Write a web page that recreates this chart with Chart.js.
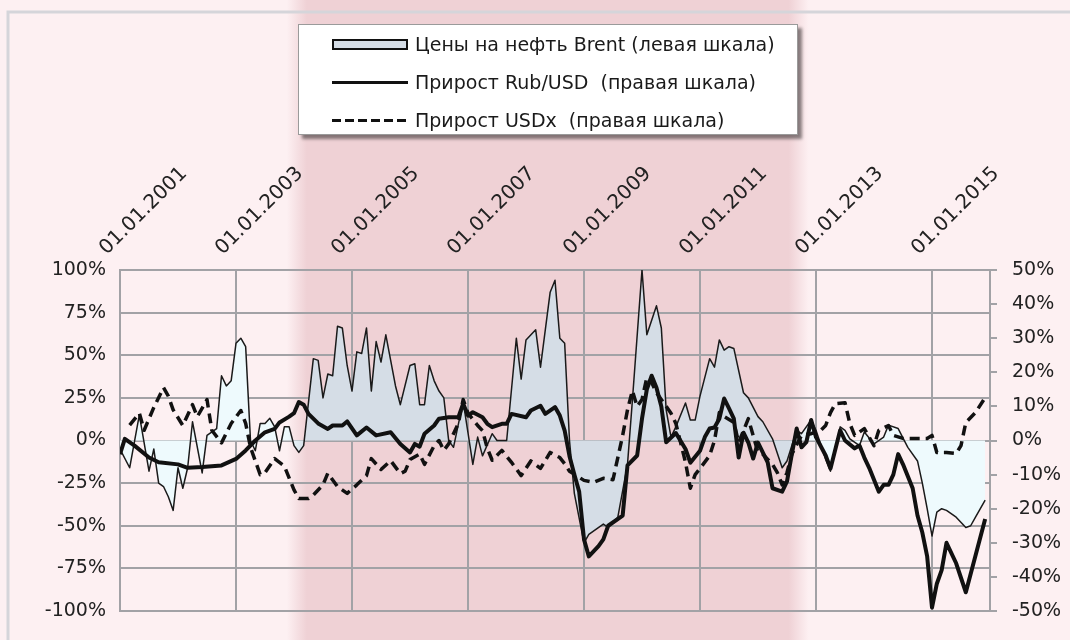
<!DOCTYPE html>
<html lang="ru">
<head>
    <meta charset="UTF-8">
    <title>Brent, Rub/USD, USDx</title>
    <style>
        body { margin: 0; background: #fdf0f2; }
        #wrap { position: relative; width: 1070px; height: 640px; }
        #legend {
            position: absolute; left: 298px; top: 24px; width: 500px; height: 111px;
            box-sizing: border-box; background: #fff; border: 1px solid #9a9a9a;
            box-shadow: 4px 4px 3px rgba(0, 0, 0, 0.45);
            font-family: "DejaVu Sans"; font-size: 19px; color: #1a1a1a;
        }
        #legend .row { position: absolute; left: 33px; height: 30px; display: flex; align-items: center; white-space: pre; }
        #legend .sw { width: 76px; height: 11px; box-sizing: border-box; margin-right: 7px; }
    </style>
</head>
<body>
<div id="wrap">
    <canvas id="myChart" width="1070" height="640"></canvas>
    <div id="legend"></div>
</div>

<script src="https://cdn.jsdelivr.net/npm/chart.js@4.4.0/dist/chart.umd.min.js"></script>
<script>
    // months counted from 01.01.2001
    var brentMonths = [0, 2, 4, 6, 7, 8, 9, 10, 11, 12, 13, 14, 15, 17, 18, 20, 21, 22, 23, 24, 25, 26, 27, 28, 29, 30, 31, 32, 33, 34, 35, 36, 37, 38,
        40, 41, 42, 43, 44, 45, 46, 47, 48, 49, 50, 51, 52, 53, 54, 55, 57, 58, 60, 61, 62, 63, 64, 65, 66, 67, 68, 69, 71, 73, 74, 75, 77, 78,
        80, 82, 83, 84, 86, 87, 89, 90, 91, 92, 93, 94, 96, 97, 100, 101, 103, 105, 106, 108, 109, 111, 112, 113, 114, 115, 117, 118, 119,
        120, 122, 123, 124, 125, 126, 127, 129, 130, 132, 133, 135, 137, 138, 140, 141, 143, 144, 146, 147, 149, 150, 151, 153, 154, 156, 158, 159,
        161, 163, 165, 166, 167, 168, 169, 170, 171, 173, 175, 176, 177, 178, 179];
    var brentValues = [-5, -16, 15, -18, -5, -25, -27, -33, -41, -16, -28, -16, 11, -19, 3, 7, 38, 32, 35, 57, 60, 55, 0, -6, 10, 10, 13, 8, -6, 8, 8, -3, -7, -3,
        48, 47, 25, 39, 38, 67, 66, 44, 29, 52, 51, 66, 29, 58, 46, 62, 32, 21, 44, 45, 21, 21, 44, 35, 29, 25, 0, -4, 23, -14, 2, -9, 4, 0,
        0, 60, 36, 59, 65, 43, 87, 94, 60, 57, 0, -31, -60, -55, -49, -51, -45, -14, 23, 100, 62, 79, 66, 18, 2, 8, 22, 12, 12,
        26, 48, 43, 59, 53, 55, 54, 28, 25, 14, 11, 1, -16, -12, 6, 4, 12, 6, -11, -18, 8, 6, 1, -3, 5, -2, 2, 9,
        7, -4, -12, -25, -40, -56, -42, -40, -41, -45, -51, -50, -45, -40, -35];

    var rubMonths = [0, 1, 3, 6, 8, 12, 14, 17, 21, 24, 26, 28, 30, 32, 33, 35, 36, 37, 38, 39, 41, 43, 44, 46, 47, 49, 51, 53, 56, 58,
        60, 61, 62, 63, 65, 66, 68, 70, 71, 72, 73, 75, 76, 77, 79, 80, 81, 84, 85, 87, 88, 90, 91, 92, 93, 94, 95, 96, 97, 99, 100, 101, 104,
        105, 107, 108, 109, 110, 111, 112, 113, 115, 117, 118, 120, 121, 122, 123, 124, 125, 126, 127, 128, 129, 130, 131, 132, 134, 135, 137,
        138, 139, 140, 141, 142, 143, 144, 146, 147, 149, 150, 152, 153, 154, 155, 157, 158, 159, 160, 161, 162, 164, 165, 166, 167, 168, 169,
        170, 171, 173, 175, 179];
    var rubValues = [-4, 0.5, -1.5, -5, -6.4, -7, -8, -7.8, -7.3, -5.4, -2.9, 0, 2.4, 3.4, 5.3, 7, 8, 11.3, 10.5, 7.8, 5, 3.4, 4.4, 4.4, 5.6, 1.5, 3.8, 1.5, 2.4, -1,
        -3.5, -1, -1.8, 2, 4.4, 6.4, 6.8, 6.8, 10.8, 7.3, 8.3, 6.8, 4.9, 3.9, 4.9, 4.9, 7.8, 6.8, 8.8, 10.2, 7.8, 9.8, 7.3, 2.9, -4.6, -10, -15, -29, -34, -31, -29, -25, -22,
        -7.3, -4.4, 6.4, 15, 19, 15.5, 10, -0.5, 2.2, -2.5, -6.5, -3, 1, 3.5, 3.8, 6.4, 12.3, 9.4, 6.4, -5, 2.3, -0.6, -5.3, -0.6, -6.4, -14, -15,
        -12, -4, 3.5, -2, -0.5, 6, 1, -4.4, -8.2, 3, 0, -2.3, -1.5, -5, -8, -15, -13, -13, -10, -4, -7, -14, -22, -27, -34, -49, -42,
        -38, -30, -36, -44.5, -23];

    var usdxMonths = [2, 4, 5, 7, 9, 10, 11, 13, 15, 16, 18, 19, 21, 23, 25, 26, 27, 28, 29, 30, 32, 34, 36, 37, 39, 40, 42, 43, 45, 47, 49, 51, 52, 54, 56, 58, 59,
        60, 62, 63, 65, 66, 67, 68, 69, 70, 71, 72, 74, 75, 76, 77, 79, 81, 83, 85, 87, 89, 91, 92, 93, 96, 98, 100, 102, 103, 104, 105, 106, 107,
        108, 109, 110, 111, 112, 114, 115, 117, 118, 119, 120, 122, 123, 124, 125, 127, 128, 130, 132, 133, 135, 136, 137, 138, 139, 141, 143,
        145, 146, 147, 148, 150, 151, 152, 154, 156, 157, 159, 160, 162, 165, 167, 168, 169, 171, 173, 174, 175, 177, 179];
    var usdxValues = [4.5, 8, 3, 9.7, 15.5, 13, 9, 4.4, 10.5, 7, 12, 3, -0.7, 5, 8.8, 5, -2, -6, -10, -9.4, -5.3, -7.5, -14.5, -17, -17, -16, -13, -9.6, -13.5, -15.5, -13, -10.3, -5.3, -8.5, -5.9, -9.7, -9,
        -5.6, -4, -7, -1.5, 0, -2.9, -1, 2, 5, 12, 8, 4.4, 2.9, -2.3, -5.8, -2.9, -6.4, -10.3, -6, -8.2, -3.5, -5, -6.8, -9, -11.7, -12.3, -11.1, -11.5, -5, 1.5, 9, 14.6, 10,
        12, 18.5, 17, 14, 12, 8, 5, -6.4, -14, -10, -8.2, -4.4, 0, 8.2, 7, 5.3, -0.6, 6.4, -3.5, -4, -7, -9.4, -13, -9.4, -4, 1.5, 2,
        3, 4.4, 8.2, 10.8, 11.1, 5, 1.5, 3.5, -1.5, 3, 4.4, 1.5, 0.6, 0.6, 0.6, 1.5, -3.5, -3.5, -3.8, -1.5, 5.3, 8.2, 12.6];

    var xTickMonths = [0, 24, 48, 72, 96, 120, 144, 168];
    var xTickLabels = ['01.01.2001', '01.01.2003', '01.01.2005', '01.01.2007', '01.01.2009', '01.01.2011', '01.01.2013', '01.01.2015'];
    var leftTickLabels = ['-100%', '-75%', '-50%', '-25%', '0%', '25%', '50%', '75%', '100%'];
    var rightTickLabels = ['-50%', '-40%', '-30%', '-20%', '-10%', '0%', '10%', '20%', '30%', '40%', '50%'];
    var seriesNames = ['Цены на нефть Brent (левая шкала)', 'Прирост Rub/USD  (правая шкала)', 'Прирост USDx  (правая шкала)'];
    var highlight = [37, 140]; // darker band, in months

    var pinkLight = '#fdf0f2', pinkBand = '#efd1d5';
    var fillOut = '#eefafd', fillIn = '#d5dde6';
    var gridColor = '#a2a2a6';

    function points(xs, ys) {
        return xs.map(function (m, i) { return { x: m, y: ys[i] }; });
    }

    // horizontal gradient that changes colour inside the highlighted band
    function bandGradient(chart, outC, inC) {
        var w = chart.width;
        var l = chart.scales.x.getPixelForValue(highlight[0]);
        var r = chart.scales.x.getPixelForValue(highlight[1]);
        var g = chart.ctx.createLinearGradient(0, 0, w, 0);
        g.addColorStop(0, outC);
        g.addColorStop((l - 12) / w, outC);
        g.addColorStop((l + 8) / w, inC);
        g.addColorStop((r - 8) / w, inC);
        g.addColorStop((r + 12) / w, outC);
        g.addColorStop(1, outC);
        return g;
    }

    var backdrop = {
        id: 'backdrop',
        beforeDraw: function (chart) {
            var ctx = chart.ctx;
            ctx.save();
            ctx.fillStyle = bandGradient(chart, pinkLight, pinkBand);
            ctx.fillRect(0, 0, chart.width, chart.height);
            ctx.strokeStyle = '#d5d5da';
            ctx.lineWidth = 3;
            ctx.beginPath();
            ctx.moveTo(8, chart.height);
            ctx.lineTo(8, 12);
            ctx.lineTo(chart.width, 12);
            ctx.stroke();
            ctx.restore();
        }
    };

    var tickFont = { family: 'DejaVu Sans', size: 19 };

    var myChart = new Chart(document.getElementById('myChart'), {
        type: 'line',
        data: {
            datasets: [
                {
                    label: seriesNames[0],
                    data: points(brentMonths, brentValues),
                    yAxisID: 'y',
                    borderColor: '#1a1a1a',
                    borderWidth: 1.5,
                    fill: 'origin',
                    backgroundColor: function (context) {
                        if (!context.chart.chartArea) return fillIn;
                        return bandGradient(context.chart, fillOut, fillIn);
                    },
                    order: 3
                },
                {
                    label: seriesNames[1],
                    data: points(rubMonths, rubValues),
                    yAxisID: 'y1',
                    borderColor: '#111',
                    borderWidth: 4,
                    fill: false,
                    order: 2
                },
                {
                    label: seriesNames[2],
                    data: points(usdxMonths, usdxValues),
                    yAxisID: 'y1',
                    borderColor: '#111',
                    borderWidth: 3.5,
                    borderDash: [10, 6],
                    fill: false,
                    order: 1
                }
            ]
        },
        options: {
            responsive: false,
            devicePixelRatio: 1,
            animation: false,
            layout: { padding: { left: 0, right: 0, top: 0, bottom: 29 } },
            elements: { point: { radius: 0 }, line: { tension: 0, borderJoinStyle: 'round' } },
            plugins: { legend: { display: false }, tooltip: { enabled: false } },
            scales: {
                x: {
                    type: 'linear',
                    position: 'top',
                    min: 0,
                    max: 180,
                    afterFit: function (scale) { scale.height = 270; },
                    grid: { color: gridColor, lineWidth: 2, drawTicks: false },
                    border: { display: false },
                    ticks: {
                        stepSize: 24,
                        autoSkip: false,
                        minRotation: 45,
                        maxRotation: 45,
                        padding: 10,
                        color: '#222',
                        font: { family: 'DejaVu Sans', size: 20 },
                        callback: function (value) {
                            var i = xTickMonths.indexOf(value);
                            return i >= 0 ? xTickLabels[i] : '';
                        }
                    }
                },
                y: {
                    position: 'left',
                    min: -100,
                    max: 100,
                    afterFit: function (scale) { scale.width = 120; },
                    grid: { color: gridColor, lineWidth: 2, drawTicks: false },
                    border: { color: gridColor, width: 2 },
                    ticks: {
                        stepSize: 25,
                        padding: 14,
                        color: '#222',
                        font: tickFont,
                        callback: function (value, index) { return leftTickLabels[index]; }
                    }
                },
                y1: {
                    position: 'right',
                    min: -50,
                    max: 50,
                    afterFit: function (scale) { scale.width = 80; },
                    grid: { drawOnChartArea: false, color: gridColor, lineWidth: 2, tickLength: 7 },
                    border: { color: gridColor, width: 2 },
                    ticks: {
                        stepSize: 10,
                        padding: 15,
                        color: '#222',
                        font: tickFont,
                        callback: function (value, index) { return rightTickLabels[index]; }
                    }
                }
            }
        },
        plugins: [backdrop]
    });

    // legend box in html, built from the datasets
    function buildLegend(chart) {
        var box = document.getElementById('legend');
        var tops = [4, 42, 80];
        chart.data.datasets.forEach(function (ds, i) {
            var row = document.createElement('div');
            row.className = 'row';
            row.style.top = tops[i] + 'px';
            var sw = document.createElement('div');
            sw.className = 'sw';
            if (i === 0) {
                sw.style.background = fillIn;
                sw.style.border = '2px solid #111';
            } else if (i === 1) {
                sw.style.height = '3px';
                sw.style.background = '#111';
            } else {
                sw.style.height = '3px';
                sw.style.background = 'repeating-linear-gradient(to right, #111 0 9px, transparent 9px 13px)';
            }
            var txt = document.createElement('span');
            txt.textContent = ds.label;
            row.appendChild(sw);
            row.appendChild(txt);
            box.appendChild(row);
        });
    }
    buildLegend(myChart);
</script>
</body>
</html>
